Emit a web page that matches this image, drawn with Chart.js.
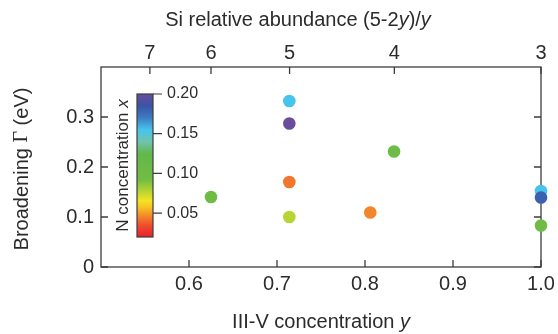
<!DOCTYPE html>
<html lang="en">
<head>
<meta charset="UTF-8">
<title>Broadening vs III-V concentration</title>
<script src="https://cdn.jsdelivr.net/npm/chart.js"></script>
<style>
  html, body { margin: 0; padding: 0; background: #fff; }
  #wrap { width: 558px; height: 334px; position: relative; }
</style>
</head>
<body>
<div id="wrap"><canvas id="myChart"></canvas></div>
<script>
// one entry per sample: III-V concentration y, broadening (eV), N concentration x
var conc  = [0.714, 0.714, 0.714, 0.714, 0.625, 0.806, 0.833, 1.0, 1.0, 1.0];
var gamma = [0.332, 0.287, 0.170, 0.100, 0.140, 0.109, 0.231, 0.152, 0.139, 0.083];
var nConc = [0.155, 0.200, 0.043, 0.078, 0.100, 0.046, 0.100, 0.155, 0.180, 0.100];

var bottomTicks = [0.6, 0.7, 0.8, 0.9, 1.0];
var leftTicks = [0, 0.1, 0.2, 0.3];
var siTicks = [7, 6, 5, 4, 3];
var barTicks = [0.05, 0.10, 0.15, 0.20];
var barRange = [0.02, 0.20];

// rainbow colour scale for N concentration
var stops = [
  [0.020, '#e8202a'], [0.035, '#ef4f2e'], [0.047, '#f38a2c'], [0.058, '#f7c622'],
  [0.066, '#f2e424'], [0.078, '#b6d433'], [0.092, '#72bd44'], [0.125, '#62b84a'],
  [0.140, '#70c4ae'], [0.155, '#46c4ec'], [0.170, '#3d7cc2'], [0.185, '#3a54a6'],
  [0.200, '#6a4c9c']
];

function hexRgb(h) {
  return [parseInt(h.substr(1, 2), 16), parseInt(h.substr(3, 2), 16), parseInt(h.substr(5, 2), 16)];
}

function colorFor(v) {
  if (v <= stops[0][0]) return stops[0][1];
  for (var i = 1; i < stops.length; i++) {
    if (v <= stops[i][0]) {
      var f = (v - stops[i - 1][0]) / (stops[i][0] - stops[i - 1][0]);
      var a = hexRgb(stops[i - 1][1]), b = hexRgb(stops[i][1]);
      return 'rgb(' + a.map(function (c, k) { return Math.round(c + (b[k] - c) * f); }).join(',') + ')';
    }
  }
  return stops[stops.length - 1][1];
}

var points = conc.map(function (c, i) { return { x: c, y: gamma[i] }; });
var pointColors = nConc.map(colorFor);

var sans = '"Liberation Sans", Arial, sans-serif';
var ink = '#2b2b2b';

// draws runs of text with different fonts, centred on x
function drawRich(ctx, parts, x, y) {
  var total = 0;
  parts.forEach(function (p) { ctx.font = p[1]; total += ctx.measureText(p[0]).width; });
  var cx = x - total / 2;
  ctx.textAlign = 'left';
  ctx.textBaseline = 'middle';
  parts.forEach(function (p) {
    ctx.font = p[1];
    ctx.fillText(p[0], cx, y);
    cx += ctx.measureText(p[0]).width;
  });
}

var framePlugin = {
  id: 'framePlugin',
  beforeDatasetsDraw: function (chart) {
    var ctx = chart.ctx, a = chart.chartArea;
    var xs = chart.scales.x, xt = chart.scales.x2, ys = chart.scales.y;
    var tl = 7;
    ctx.save();
    ctx.strokeStyle = '#3c3c3c';
    ctx.lineWidth = 1.3;
    ctx.strokeRect(a.left, a.top, a.right - a.left, a.bottom - a.top);

    // ticks pointing into the plot
    ctx.beginPath();
    xs.ticks.forEach(function (t) {
      var p = xs.getPixelForValue(t.value);
      ctx.moveTo(p, a.bottom); ctx.lineTo(p, a.bottom - tl);
    });
    xt.ticks.forEach(function (t) {
      var p = xt.getPixelForValue(t.value);
      ctx.moveTo(p, a.top); ctx.lineTo(p, a.top + tl);
    });
    ys.ticks.forEach(function (t) {
      var p = ys.getPixelForValue(t.value);
      ctx.moveTo(a.left, p); ctx.lineTo(a.left + tl, p);
      ctx.moveTo(a.right, p); ctx.lineTo(a.right - tl, p);
    });
    ctx.stroke();

    // colour bar
    var bx = a.left + 36, bw = 16, bTop = 94, bBot = 237;
    var toPx = function (v) { return bBot - (v - barRange[0]) / (barRange[1] - barRange[0]) * (bBot - bTop); };
    var g = ctx.createLinearGradient(0, bBot, 0, bTop);
    stops.forEach(function (s) {
      g.addColorStop((s[0] - barRange[0]) / (barRange[1] - barRange[0]), s[1]);
    });
    ctx.fillStyle = g;
    ctx.fillRect(bx, bTop, bw, bBot - bTop);
    ctx.lineWidth = 1.2;
    ctx.strokeRect(bx, bTop, bw, bBot - bTop);
    ctx.beginPath();
    barTicks.forEach(function (v) {
      ctx.moveTo(bx + bw, toPx(v)); ctx.lineTo(bx + bw + 9, toPx(v));
    });
    ctx.stroke();
    ctx.fillStyle = ink;
    ctx.font = '16px ' + sans;
    ctx.textAlign = 'left';
    ctx.textBaseline = 'middle';
    barTicks.forEach(function (v) {
      ctx.fillText(v.toFixed(2), bx + bw + 14, toPx(v));
    });
    ctx.save();
    ctx.translate(bx - 14, (bTop + bBot) / 2);
    ctx.rotate(-Math.PI / 2);
    drawRich(ctx, [['N concentration ', '17px ' + sans], ['x', 'italic 17px ' + sans]], 0, 0);
    ctx.restore();

    // axis titles
    var mid = (a.left + a.right) / 2;
    drawRich(ctx, [['III-V concentration ', '20px ' + sans], ['y', 'italic 20px ' + sans]], mid, 322);
    drawRich(ctx, [['Si relative abundance (5-2', '20px ' + sans], ['y', 'italic 20px ' + sans],
                   [')/', '20px ' + sans], ['y', 'italic 20px ' + sans]], 298, 20);
    ctx.save();
    ctx.translate(22, (a.top + a.bottom) / 2 + 2);
    ctx.rotate(-Math.PI / 2);
    drawRich(ctx, [['Broadening ', '20px ' + sans], ['\u0393', '20px "Liberation Serif", serif'],
                   [' (eV)', '20px ' + sans]], 0, 0);
    ctx.restore();
    ctx.restore();
  }
};

var tickFont = { family: sans, size: 20 };

new Chart(document.getElementById('myChart'), {
  type: 'scatter',
  data: {
    datasets: [{
      data: points,
      pointBackgroundColor: pointColors,
      pointBorderWidth: 0,
      pointRadius: 6.3,
      pointHoverRadius: 6.3,
      clip: false
    }]
  },
  options: {
    responsive: true,
    maintainAspectRatio: false,
    animation: false,
    layout: { padding: { left: 0, right: 17, top: 0, bottom: 0 } },
    plugins: { legend: { display: false }, tooltip: { enabled: false } },
    scales: {
      x: {
        type: 'linear', position: 'bottom', min: 0.5, max: 1.0,
        afterBuildTicks: function (s) { s.ticks = bottomTicks.map(function (v) { return { value: v }; }); },
        afterFit: function (s) { s.height = 67; },
        ticks: { callback: function (v) { return v.toFixed(1); }, font: tickFont, color: ink, padding: -3, maxRotation: 0, autoSkip: false },
        grid: { display: false },
        border: { display: false }
      },
      x2: {
        type: 'linear', position: 'top', min: 0.5, max: 1.0,
        afterBuildTicks: function (s) { s.ticks = siTicks.map(function (n) { return { value: 5 / (n + 2) }; }); },
        afterFit: function (s) { s.height = 67; },
        ticks: { callback: function (v) { return String(Math.round(5 / v - 2)); }, font: tickFont, color: ink, padding: -6, maxRotation: 0, autoSkip: false },
        grid: { display: false },
        border: { display: false }
      },
      y: {
        type: 'linear', position: 'left', min: 0, max: 0.4,
        afterBuildTicks: function (s) { s.ticks = leftTicks.map(function (v) { return { value: v }; }); },
        afterFit: function (s) { s.width = 101; },
        ticks: { callback: function (v) { return v === 0 ? '0' : v.toFixed(1); }, font: tickFont, color: ink, padding: -1, autoSkip: false },
        grid: { display: false },
        border: { display: false }
      }
    }
  },
  plugins: [framePlugin]
});
</script>
</body>
</html>
